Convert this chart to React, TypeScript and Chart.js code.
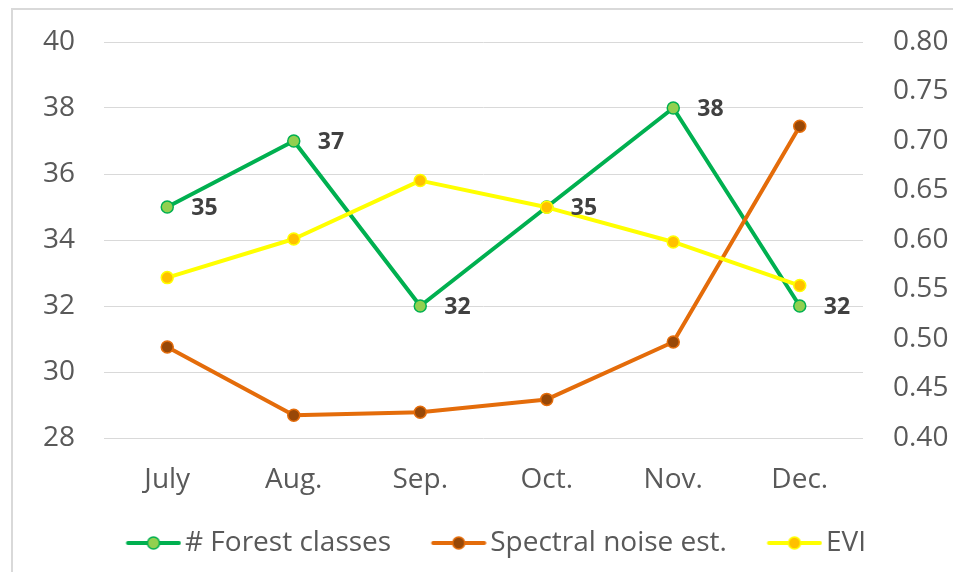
import React, { useEffect, useRef } from "react";
import { Chart, registerables } from "chart.js";

Chart.register(...registerables);

const categories = ["July", "Aug.", "Sep.", "Oct.", "Nov.", "Dec."];
const forestClasses = [35, 37, 32, 35, 38, 32];
const spectralNoise = [0.492, 0.423, 0.426, 0.439, 0.497, 0.715];
const evi = [0.562, 0.601, 0.66, 0.633, 0.598, 0.554];
const seriesNames = ["# Forest classes", "Spectral noise est.", "EVI"];

const FONT = "'Open Sans', 'Noto Sans', sans-serif";
const TEXT = "#595959";

const seriesStyles = [
  { line: "#00b050", fill: "#92d050", border: "#00b050" },
  { line: "#e46c0a", fill: "#984807", border: "#e46c0a" },
  { line: "#ffff00", fill: "#ffc000", border: "#ffff00" },
];

function makeLegendIcon(line: string, fill: string, border: string) {
  const c = document.createElement("canvas");
  c.width = 96;
  c.height = 18;
  const ctx = c.getContext("2d")!;
  ctx.strokeStyle = line;
  ctx.lineWidth = 4;
  ctx.lineCap = "round";
  ctx.beginPath();
  ctx.moveTo(42.5, 9);
  ctx.lineTo(93.5, 9);
  ctx.stroke();
  ctx.beginPath();
  ctx.arc(68, 9, 6, 0, Math.PI * 2);
  ctx.fillStyle = fill;
  ctx.fill();
  ctx.lineWidth = 1.5;
  ctx.strokeStyle = border;
  ctx.stroke();
  return c;
}

const pointLabels = {
  id: "pointLabels",
  afterDatasetsDraw(chart: any) {
    const meta = chart.getDatasetMeta(0);
    const ctx = chart.ctx;
    ctx.save();
    ctx.font = `bold 23px ${FONT}`;
    ctx.fillStyle = "#404040";
    ctx.textAlign = "left";
    ctx.textBaseline = "middle";
    meta.data.forEach((pt: any, i: number) => {
      ctx.fillText(String(forestClasses[i]), pt.x + 24, pt.y + 1);
    });
    ctx.restore();
  },
};

export default function App() {
  const ref = useRef<HTMLCanvasElement>(null);

  useEffect(() => {
    if (!ref.current) return;
    const icons = seriesStyles.map((s) => makeLegendIcon(s.line, s.fill, s.border));
    const datasetsData = [forestClasses, spectralNoise, evi];
    const axes = ["y", "y1", "y1"];
    const orders = [3, 2, 1];
    const chart = new Chart(ref.current, {
      type: "line",
      data: {
        labels: categories,
        datasets: datasetsData.map((d, i) => ({
          label: seriesNames[i],
          data: d,
          yAxisID: axes[i],
          order: orders[i],
          borderColor: seriesStyles[i].line,
          borderWidth: 4,
          borderCapStyle: "round",
          borderJoinStyle: "round",
          tension: 0,
          fill: false,
          pointRadius: 6,
          pointHoverRadius: 6,
          pointBackgroundColor: seriesStyles[i].fill,
          pointBorderColor: seriesStyles[i].border,
          pointBorderWidth: 1.5,
        })),
      },
      options: {
        animation: false,
        responsive: false,
        devicePixelRatio: 1,
        layout: { padding: { top: 32, bottom: 5, left: 0, right: 9 } },
        scales: {
          x: {
            type: "category",
            offset: true,
            grid: { display: false, drawTicks: false },
            border: { display: false },
            ticks: { color: TEXT, font: { family: FONT, size: 28 }, padding: 25, maxRotation: 0 },
            afterFit: (s: any) => {
              s.height = 81;
            },
          },
          y: {
            position: "left",
            min: 28,
            max: 40,
            ticks: { stepSize: 2, color: TEXT, font: { family: FONT, size: 28 }, padding: 0 },
            grid: {
              color: "#d9d9d9",
              lineWidth: 1,
              drawTicks: true,
              tickLength: 29,
              tickColor: "rgba(0,0,0,0)",
            },
            border: { display: false },
            afterFit: (s: any) => {
              s.width = 91;
            },
          },
          y1: {
            position: "right",
            min: 0.4,
            max: 0.8,
            ticks: {
              stepSize: 0.05,
              color: TEXT,
              font: { family: FONT, size: 28 },
              padding: 0,
              callback: (v: any) => Number(v).toFixed(2),
            },
            grid: {
              display: false,
              drawTicks: true,
              tickLength: 30,
              tickColor: "rgba(0,0,0,0)",
            },
            border: { display: false },
            afterFit: (s: any) => {
              s.width = 86;
            },
          },
        },
        plugins: {
          tooltip: { enabled: false },
          legend: {
            position: "bottom",
            labels: {
              usePointStyle: true,
              pointStyleWidth: 75,
              padding: 10,
              color: TEXT,
              font: { family: FONT, size: 28 },
              generateLabels: () =>
                seriesNames.map((name, i) => ({
                  text: name,
                  pointStyle: icons[i],
                  datasetIndex: i,
                  hidden: false,
                  lineWidth: 0,
                  fillStyle: "rgba(0,0,0,0)",
                  strokeStyle: "rgba(0,0,0,0)",
                  fontColor: TEXT,
                })),
            },
          },
        },
      },
      plugins: [pointLabels],
    } as any);
    return () => chart.destroy();
  }, []);

  return (
    <div
      style={{
        marginLeft: 3,
        borderTop: "2px solid #d9d9d9",
        borderLeft: "2px solid #d9d9d9",
        width: 945,
        height: 562,
      }}
    >
      <canvas ref={ref} width={945} height={562} style={{ display: "block" }} />
    </div>
  );
}
